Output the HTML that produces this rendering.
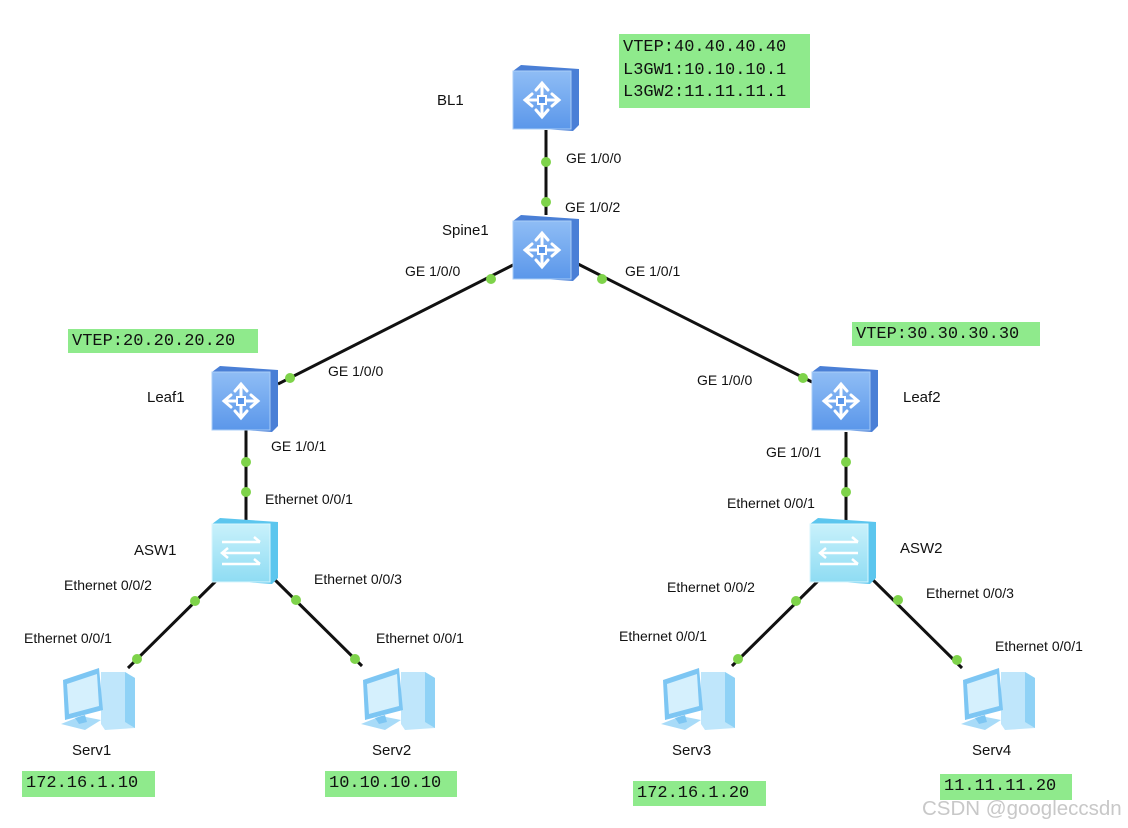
<!DOCTYPE html>
<html><head><meta charset="utf-8"><style>
body{margin:0;width:1128px;height:828px;background:#fff;overflow:hidden;position:relative}
svg{position:absolute;left:0;top:0}
.l{font-family:"Liberation Sans",sans-serif;font-size:14px;fill:#111}
.n{font-family:"Liberation Sans",sans-serif;font-size:15px;fill:#111}
.g{position:absolute;background:#8fea8c;font-family:"Liberation Mono",monospace;font-size:17px;line-height:20px;padding:3px 4px;color:#111;white-space:pre}
</style></head><body>
<svg width="1128" height="828" viewBox="0 0 1128 828">
<defs>
<linearGradient id="rb" x1="0" y1="0" x2="0" y2="1"><stop offset="0" stop-color="#8fbdf5"/><stop offset="1" stop-color="#5b97ea"/></linearGradient>
<linearGradient id="sb" x1="0" y1="0" x2="0" y2="1"><stop offset="0" stop-color="#c9f1fb"/><stop offset="1" stop-color="#8fdcf3"/></linearGradient>
<g id="router">
<path d="M0 6 L8 0 L66 4 L66 60 L60 66 L0 62Z" fill="#4a7fd6"/>
<rect x="0" y="6" width="58" height="58" fill="url(#rb)" stroke="#a9cdf7"/>
<g stroke="#fff" stroke-width="3" fill="none" stroke-linecap="round">
<path d="M29 20 L29 50 M14 35 L44 35"/>
<path d="M23 25 L29 18 L35 25 M23 45 L29 52 L35 45 M19 29 L12 35 L19 41 M39 29 L46 35 L39 41"/>
</g>
<rect x="25" y="31" width="8" height="8" fill="#5b97ea" stroke="#fff" stroke-width="2"/>
</g>
<g id="switch">
<path d="M0 6 L8 0 L66 4 L66 60 L60 66 L0 62Z" fill="#5cc6ee"/>
<rect x="0" y="6" width="58" height="58" fill="url(#sb)" stroke="#d8f6fd"/>
<g stroke="#fff" stroke-width="2.5" fill="none">
<path d="M10 24 L48 24 M42 19 L48 24 M10 35 L48 35 M16 30 L10 35 L16 40 M10 46 L48 46 M42 41 L48 46"/>
</g>
</g>
<g id="pc">
<path d="M46 10 L70 10 L80 16 L80 66 L50 68 L46 62Z" fill="#bfe6fb"/>
<path d="M70 10 L80 16 L80 66 L70 60Z" fill="#8fd2f6"/>
<path d="M8 18 L44 6 L48 48 L10 58Z" fill="#7dc6f3"/>
<path d="M12 22 L42 12 L44 44 L14 52Z" fill="#d5f0fd"/>
<path d="M6 62 L26 54 L46 58 L30 68Z" fill="#a8dbf8"/>
<path d="M20 56 L30 53 L32 60 L24 62Z" fill="#7dc6f3"/>
</g>
</defs>
<g stroke="#111" stroke-width="3">
<line x1="546" y1="130" x2="546" y2="215"/>
<line x1="515" y1="264" x2="278" y2="384"/>
<line x1="578" y1="264" x2="812" y2="382"/>
<line x1="246" y1="430" x2="246" y2="520"/>
<line x1="846" y1="432" x2="846" y2="520"/>
<line x1="222" y1="575" x2="128" y2="668"/>
<line x1="270" y1="575" x2="362" y2="666"/>
<line x1="822" y1="577" x2="732" y2="666"/>
<line x1="870" y1="577" x2="962" y2="668"/>
</g>
<use href="#router" x="513" y="65"/>
<use href="#router" x="513" y="215"/>
<use href="#router" x="212" y="366"/>
<use href="#router" x="812" y="366"/>
<use href="#switch" x="212" y="518"/>
<use href="#switch" x="810" y="518"/>
<use href="#pc" x="55" y="662"/>
<use href="#pc" x="355" y="662"/>
<use href="#pc" x="655" y="662"/>
<use href="#pc" x="955" y="662"/>
<g fill="#7ed34a">
<circle cx="546" cy="162" r="5"/><circle cx="546" cy="202" r="5"/>
<circle cx="491" cy="279" r="5"/><circle cx="290" cy="378" r="5"/>
<circle cx="602" cy="279" r="5"/><circle cx="803" cy="378" r="5"/>
<circle cx="246" cy="462" r="5"/><circle cx="246" cy="492" r="5"/>
<circle cx="846" cy="462" r="5"/><circle cx="846" cy="492" r="5"/>
<circle cx="195" cy="601" r="5"/><circle cx="137" cy="659" r="5"/>
<circle cx="296" cy="600" r="5"/><circle cx="355" cy="659" r="5"/>
<circle cx="796" cy="601" r="5"/><circle cx="738" cy="659" r="5"/>
<circle cx="898" cy="600" r="5"/><circle cx="957" cy="660" r="5"/>
</g>
<text class="n" x="437" y="105">BL1</text>
<text class="n" x="442" y="235">Spine1</text>
<text class="n" x="147" y="402">Leaf1</text>
<text class="n" x="903" y="402">Leaf2</text>
<text class="n" x="134" y="555">ASW1</text>
<text class="n" x="900" y="553">ASW2</text>
<text class="n" x="72" y="755">Serv1</text>
<text class="n" x="372" y="755">Serv2</text>
<text class="n" x="672" y="755">Serv3</text>
<text class="n" x="972" y="755">Serv4</text>
<text class="l" x="566" y="163">GE 1/0/0</text>
<text class="l" x="565" y="212">GE 1/0/2</text>
<text class="l" x="405" y="276">GE 1/0/0</text>
<text class="l" x="625" y="276">GE 1/0/1</text>
<text class="l" x="328" y="376">GE 1/0/0</text>
<text class="l" x="697" y="385">GE 1/0/0</text>
<text class="l" x="271" y="451">GE 1/0/1</text>
<text class="l" x="766" y="457">GE 1/0/1</text>
<text class="l" x="265" y="504">Ethernet 0/0/1</text>
<text class="l" x="727" y="508">Ethernet 0/0/1</text>
<text class="l" x="64" y="590">Ethernet 0/0/2</text>
<text class="l" x="314" y="584">Ethernet 0/0/3</text>
<text class="l" x="667" y="592">Ethernet 0/0/2</text>
<text class="l" x="926" y="598">Ethernet 0/0/3</text>
<text class="l" x="24" y="643">Ethernet 0/0/1</text>
<text class="l" x="376" y="643">Ethernet 0/0/1</text>
<text class="l" x="619" y="641">Ethernet 0/0/1</text>
<text class="l" x="995" y="651">Ethernet 0/0/1</text>
<text x="922" y="815" font-family="Liberation Sans,sans-serif" font-size="20.5" fill="#c8c8c8">CSDN @googleccsdn</text>
</svg>
<div class="g" style="left:619px;top:34px;width:183px;height:68px;line-height:22.5px">VTEP:40.40.40.40
L3GW1:10.10.10.1
L3GW2:11.11.11.1</div>
<div class="g" style="left:68px;top:329px;width:182px;height:18px">VTEP:20.20.20.20</div>
<div class="g" style="left:852px;top:322px;width:180px;height:18px">VTEP:30.30.30.30</div>
<div class="g" style="left:22px;top:771px;width:125px;height:20px">172.16.1.10</div>
<div class="g" style="left:325px;top:771px;width:124px;height:20px">10.10.10.10</div>
<div class="g" style="left:633px;top:781px;width:125px;height:19px">172.16.1.20</div>
<div class="g" style="left:940px;top:774px;width:124px;height:20px">11.11.11.20</div>
</body></html>
